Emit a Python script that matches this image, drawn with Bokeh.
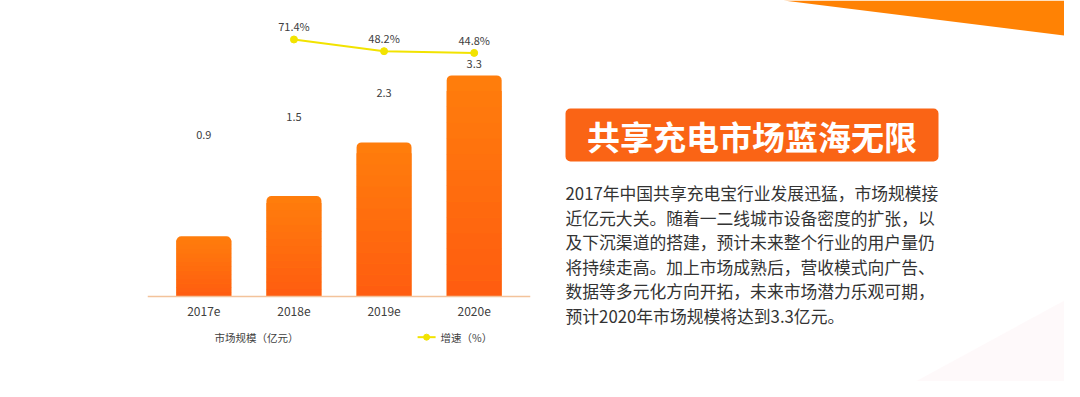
from bokeh.plotting import figure
from bokeh.models import FactorRange, Range1d, Span
from bokeh.layouts import row
from bokeh.core.properties import value
from bokeh.embed import file_html
from bokeh.resources import INLINE

# ---------------- data ----------------
years = ["2017e", "2018e", "2019e", "2020e"]
market = [0.9, 1.5, 2.3, 3.3]            # 市场规模（亿元）
growth_years = ["2018e", "2019e", "2020e"]
growth = [71.4, 48.2, 44.8]              # 增速（%）
market_labels = ["0.9", "1.5", "2.3", "3.3"]
growth_labels = ["71.4%", "48.2%", "44.8%"]
legend_bar = "市场规模（亿元）"
legend_line = "增速（%）"
title_text = "共享充电市场蓝海无限"
paragraph = [
    "2017年中国共享充电宝行业发展迅猛，市场规模接",
    "近亿元大关。随着一二线城市设备密度的扩张，以",
    "及下沉渠道的搭建，预计未来整个行业的用户量仍",
    "将持续走高。加上市场成熟后，营收模式向广告、",
    "数据等多元化方向开拓，未来市场潜力乐观可期，",
    "预计2020年市场规模将达到3.3亿元。",
]

FONT = "Noto Sans CJK SC"
H = 381
W1 = 550
W2 = 1064 - W1
TXT = "#404040"

# ---------------- chart (left) ----------------
cp = figure(width=W1, height=H,
            x_range=FactorRange(*years, range_padding=0.0625),
            y_range=Range1d(-85 / 67.0, 296 / 67.0),
            x_axis_location=None, y_axis_location=None,
            output_backend="svg", toolbar_location=None,
            min_border_left=147, min_border_right=20,
            min_border_top=0, min_border_bottom=0)
cp.outline_line_color = None
cp.grid.visible = False
cp.background_fill_color = "white"
cp.border_fill_color = "white"
cp.extra_y_ranges = {"lbl": Range1d(-7.45, 5.43), "pct": Range1d(-606.8, 148.7)}

# bars with a vertical gradient (top lighter orange, bottom red-orange)
top_c = (255, 126, 12)
bot_c = (255, 92, 16)
bw = 0.61
N = 14


def mix(t):
    return "#%02x%02x%02x" % tuple(int(round(bot_c[i] + (top_c[i] - bot_c[i]) * t)) for i in range(3))


cp.vbar(x=years, top=market, width=bw, fill_color=mix((N - 0.5) / N),
        line_color=None, border_radius=(5, 5, 0, 0))
for k in range(N - 1):
    bottoms = [v * k / N for v in market]
    tops = [v * (k + 1) / N + 0.004 for v in market]
    cp.vbar(x=years, bottom=bottoms, top=tops, width=bw,
            fill_color=mix((k + 0.5) / N), line_color=None)

# baseline (category axis line) and category labels
cp.add_layout(Span(location=0, dimension="width", line_color="#f3c39b", line_width=1.5))
cp.text(x=years, y=[0] * len(years), text=years, y_offset=15,
        text_align="center", text_baseline="middle",
        text_font=value(FONT), text_font_size="12px", text_color=TXT)

# value labels
cp.text(x=years, y=market, text=market_labels, y_range_name="lbl",
        text_align="center", text_baseline="middle",
        text_font=value(FONT), text_font_size="11px", text_color=TXT)

# growth line
ycol = "#f2e300"
cp.line(x=growth_years, y=growth, y_range_name="pct", line_color=ycol, line_width=2)
cp.scatter(x=growth_years, y=growth, y_range_name="pct", size=7,
           fill_color=ycol, line_color=ycol)
cp.text(x=growth_years, y=growth, text=growth_labels, y_range_name="pct",
        y_offset=-13, text_align="center", text_baseline="middle",
        text_font=value(FONT), text_font_size="11px", text_color=TXT)

# legend (below the category labels)
LY = -0.607
cp.text(x=[0.619, 3.127], y=[LY, LY], text=[legend_bar, legend_line],
        text_align="left", text_baseline="middle",
        text_font=value(FONT), text_font_size="10.5px", text_color=TXT)
cp.scatter(x=[2.972], y=[LY], marker="dash", size=18, line_color=ycol, line_width=2)
cp.scatter(x=[2.972], y=[LY], marker="circle", size=6, fill_color=ycol, line_color=ycol)

# ---------------- right panel ----------------
rp = figure(width=W2, height=H, x_range=Range1d(550, 1064), y_range=Range1d(381, 0),
            output_backend="svg", toolbar_location=None,
            x_axis_location=None, y_axis_location=None,
            min_border=0, min_border_left=0, min_border_right=0,
            min_border_top=0, min_border_bottom=0)
rp.outline_line_color = None
rp.grid.visible = False
rp.background_fill_color = "white"
rp.border_fill_color = "white"

# faint pink wash at bottom right
rp.patch(x=[880, 1064, 1064], y=[400, 300, 400], fill_color="#fdeef0",
         fill_alpha=0.35, line_color=None)
# orange band at top right
rp.patch(x=[783, 1080, 1080], y=[0, 0, 37], fill_color="#ff8204", line_color=None)

# title box
rp.quad(left=[565], right=[938], top=[108], bottom=[161], fill_color="#fa6415",
        line_color=None, border_radius=5)
rp.text(x=[751.5], y=[135], text=[title_text], text_align="center",
        text_baseline="middle", text_font=value(FONT), text_font_size="33px",
        text_font_style="bold", text_color="white")

# paragraph
ys = [192.5, 217, 241.5, 266, 290.5, 315]
rp.text(x=[565] * len(paragraph), y=ys, text=paragraph, text_align="left",
        text_baseline="middle", text_font=value(FONT), text_font_size="16.8px",
        text_color="#333333")

layout = row(cp, rp, spacing=0)
open("out.html", "w").write(file_html(layout, INLINE))
